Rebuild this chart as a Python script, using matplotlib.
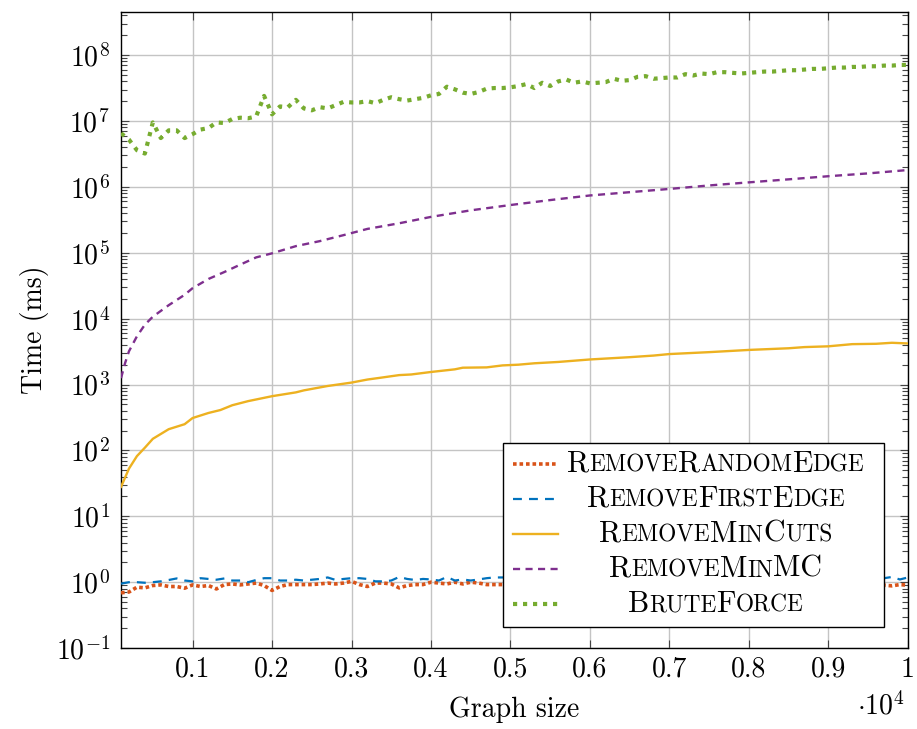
import matplotlib
matplotlib.use("Agg")
import matplotlib.pyplot as plt
from matplotlib.ticker import FixedLocator, FixedFormatter, LogLocator, NullFormatter
from matplotlib.offsetbox import TextArea, HPacker, AnchoredOffsetbox
from matplotlib.patches import Rectangle
from matplotlib.lines import Line2D

plt.rcParams['font.family'] = 'cmr10'
plt.rcParams['mathtext.fontset'] = 'cm'
plt.rcParams['axes.formatter.use_mathtext'] = True

# datos (x = tamano del grafo)
x_cien = list(range(100, 10100, 100))

brute_force = [6.5e6, 5.2e6, 3.6e6, 3.2e6, 9.5e6, 5.5e6, 7.2e6, 7.2e6, 5.5e6, 6.3e6,
               7.4e6, 7.8e6, 9.5e6, 9.3e6, 1.07e7, 1.12e7, 1.10e7, 1.17e7, 2.4e7, 1.26e7,
               1.66e7, 1.62e7, 2.09e7, 1.55e7, 1.45e7, 1.62e7, 1.55e7, 1.74e7, 1.95e7, 1.91e7,
               1.91e7, 2.0e7, 1.86e7, 2.09e7, 2.29e7, 2.14e7, 2.04e7, 2.14e7, 2.24e7, 2.45e7,
               2.57e7, 3.31e7, 3.02e7, 2.69e7, 2.57e7, 2.75e7, 3.09e7, 3.16e7, 3.16e7, 3.24e7,
               3.39e7, 3.63e7, 3.16e7, 3.80e7, 3.39e7, 3.98e7, 4.27e7, 3.80e7, 3.98e7, 3.72e7,
               3.80e7, 3.89e7, 4.37e7, 4.07e7, 4.17e7, 4.68e7, 4.79e7, 4.37e7, 4.47e7, 4.57e7,
               4.57e7, 5.13e7, 4.90e7, 5.25e7, 5.13e7, 5.50e7, 5.50e7, 5.37e7, 5.25e7, 5.37e7,
               5.50e7, 5.62e7, 5.62e7, 5.75e7, 5.89e7, 5.89e7, 6.03e7, 6.17e7, 6.17e7, 6.31e7,
               6.46e7, 6.46e7, 6.61e7, 6.61e7, 6.76e7, 6.76e7, 6.92e7, 6.92e7, 7.08e7, 7.08e7]

x_min_mc = [100, 150, 200, 300, 400, 500, 700, 900, 1000, 1200, 1400, 1600, 1800, 2000,
            2300, 2600, 2900, 3200, 3600, 4000, 4500, 5000, 5500, 6000, 6500, 7000, 7500,
            8000, 8500, 9000, 9500, 10000]
min_mc = [1.25e3, 2.1e3, 3.2e3, 5.4e3, 8.1e3, 1.07e4, 1.6e4, 2.3e4, 2.9e4, 4.0e4, 5.1e4,
          6.6e4, 8.5e4, 9.8e4, 1.26e5, 1.5e5, 1.85e5, 2.3e5, 2.8e5, 3.5e5, 4.4e5, 5.3e5,
          6.3e5, 7.4e5, 8.3e5, 9.3e5, 1.05e6, 1.17e6, 1.3e6, 1.45e6, 1.6e6, 1.8e6]

x_min_cuts = [100, 200, 300, 400, 500, 700, 900, 1000, 1200, 1350, 1500, 1700, 2000, 2300,
              2400, 2700, 3000, 3200, 3350, 3600, 3750, 4000, 4300, 4400, 4700, 4900, 5100,
              5300, 5600, 6000, 6500, 6800, 7000, 7500, 8000, 8500, 8700, 9000, 9300, 9600,
              9800, 10000]
min_cuts = [28, 53, 82, 110, 150, 210, 250, 310, 370, 410, 485, 560, 665, 760,
            815, 950, 1070, 1190, 1260, 1390, 1420, 1550, 1700, 1800, 1820, 1950, 2000,
            2100, 2200, 2400, 2600, 2750, 2900, 3100, 3350, 3550, 3700, 3800, 4100, 4150,
            4300, 4200]

# lo que queda debajo de la leyenda no se ve
x_edge = list(range(100, 5000, 100)) + [9700, 9800, 9900, 10000]
random_edge = [0.69, 0.71, 0.84, 0.82, 0.89, 0.91, 0.86, 0.86, 0.81, 0.91,
               0.86, 0.89, 0.79, 0.92, 0.94, 0.91, 0.94, 0.97, 0.89, 0.75,
               0.86, 0.92, 0.92, 0.92, 0.92, 0.94, 0.97, 0.94, 0.97, 1.03,
               0.92, 0.86, 0.97, 0.97, 0.94, 0.82, 0.89, 0.92, 0.92, 1.0,
               0.97, 0.94, 1.0, 0.94, 1.0, 0.97, 0.92, 0.92, 0.92,
               0.90, 0.88, 0.92, 0.90]
first_edge = [0.95, 1.0, 1.0, 0.98, 1.0, 1.03, 1.08, 1.14, 1.06, 1.03,
              1.15, 1.12, 1.09, 1.14, 1.06, 1.06, 1.0, 1.08, 1.15, 1.15,
              1.06, 1.06, 1.09, 1.06, 1.09, 1.12, 1.18, 1.08, 1.12, 1.15,
              1.15, 1.12, 1.03, 1.03, 1.06, 1.2, 1.12, 1.08, 1.12, 1.1,
              1.06, 1.2, 1.06, 1.1, 1.06, 1.1, 1.15, 1.18, 1.18,
              1.15, 1.2, 1.1, 1.18]

x_ticks = [1000, 2000, 3000, 4000, 5000, 6000, 7000, 8000, 9000, 10000]
x_tick_labels = ['0.1', '0.2', '0.3', '0.4', '0.5', '0.6', '0.7', '0.8', '0.9', '1']

# nombre, partes en versalitas, color, estilo
series = [
    ([('R', 1), ('EMOVE', 0), ('R', 1), ('ANDOM', 0), ('E', 1), ('DGE', 0)], '#D95319', (0, (1, 0.8)), 2.6),
    ([('R', 1), ('EMOVE', 0), ('F', 1), ('IRST', 0), ('E', 1), ('DGE', 0)], '#0072BD', (0, (4, 3.2)), 1.6),
    ([('R', 1), ('EMOVE', 0), ('M', 1), ('IN', 0), ('C', 1), ('UTS', 0)], '#EDB120', '-', 1.7),
    ([('R', 1), ('EMOVE', 0), ('M', 1), ('IN', 0), ('MC', 1)], '#7E2F8E', (0, (3, 2.3)), 1.7),
    ([('B', 1), ('RUTE', 0), ('F', 1), ('ORCE', 0)], '#77AC30', (0, (1, 1.4)), 3.0),
]

fig = plt.figure(figsize=(9.17, 7.29), dpi=100)
ax = fig.add_axes([0.132, 0.111, 0.858, 0.8725])

datos = [(x_edge, random_edge), (x_edge, first_edge), (x_min_cuts, min_cuts),
         (x_min_mc, min_mc), (x_cien, brute_force)]
for (xs, ys), (partes, color, estilo, lw) in zip(datos, series):
    ax.plot(xs, ys, color=color, linestyle=estilo, lw=lw, zorder=3)

ax.set_yscale('log')
ax.set_xlim(100, 10000)
ax.set_ylim(0.1, 4.5e8)
ax.yaxis.set_major_locator(LogLocator(base=10, numticks=20))
ax.yaxis.set_minor_locator(LogLocator(base=10, subs=range(2, 10), numticks=20))
ax.yaxis.set_minor_formatter(NullFormatter())
ax.xaxis.set_major_locator(FixedLocator(x_ticks))
ax.xaxis.set_major_formatter(FixedFormatter(x_tick_labels))

ax.grid(True, which='major', color='#c4c4c4', lw=1.0, zorder=0)
ax.set_axisbelow(True)
ax.tick_params(which='both', direction='in', top=True, right=True, color='#444444', width=0.8)
ax.tick_params(which='major', length=6, labelsize=20)
ax.tick_params(which='minor', length=4)
ax.tick_params(axis='y', pad=8)
ax.tick_params(axis='x', pad=6)
for s in ax.spines.values():
    s.set_linewidth(1.0)

ax.set_xlabel('Graph size', fontsize=20, labelpad=10)
ax.set_ylabel('Time (ms)', fontsize=20, labelpad=5)
ax.text(0.996, -0.091, r'$\cdot 10^{4}$', transform=ax.transAxes, ha='right', va='center', fontsize=20)

# leyenda hecha a mano por las versalitas
ax.add_patch(Rectangle((0.485, 0.033), 0.485, 0.289, transform=ax.transAxes,
                       facecolor='white', edgecolor='black', lw=1.0, zorder=6))
filas_y = [0.289, 0.234, 0.179, 0.124, 0.069]
for (partes, color, estilo, lw), yf in zip(series, filas_y):
    ax.add_line(Line2D([0.498, 0.555], [yf, yf], transform=ax.transAxes, color=color,
                       linestyle=estilo, lw=lw, zorder=7))
    cajas = [TextArea(t, textprops=dict(fontsize=21.6 if grande else 16.8, family='cmr10'))
             for t, grande in partes]
    etiqueta = HPacker(children=cajas, align='baseline', pad=0, sep=0)
    caja = AnchoredOffsetbox(loc='center', child=etiqueta, pad=0, borderpad=0, frameon=False,
                             bbox_to_anchor=(0.756, yf), bbox_transform=ax.transAxes)
    caja.set_zorder(8)
    ax.add_artist(caja)

fig.savefig('out.png', dpi=100)
